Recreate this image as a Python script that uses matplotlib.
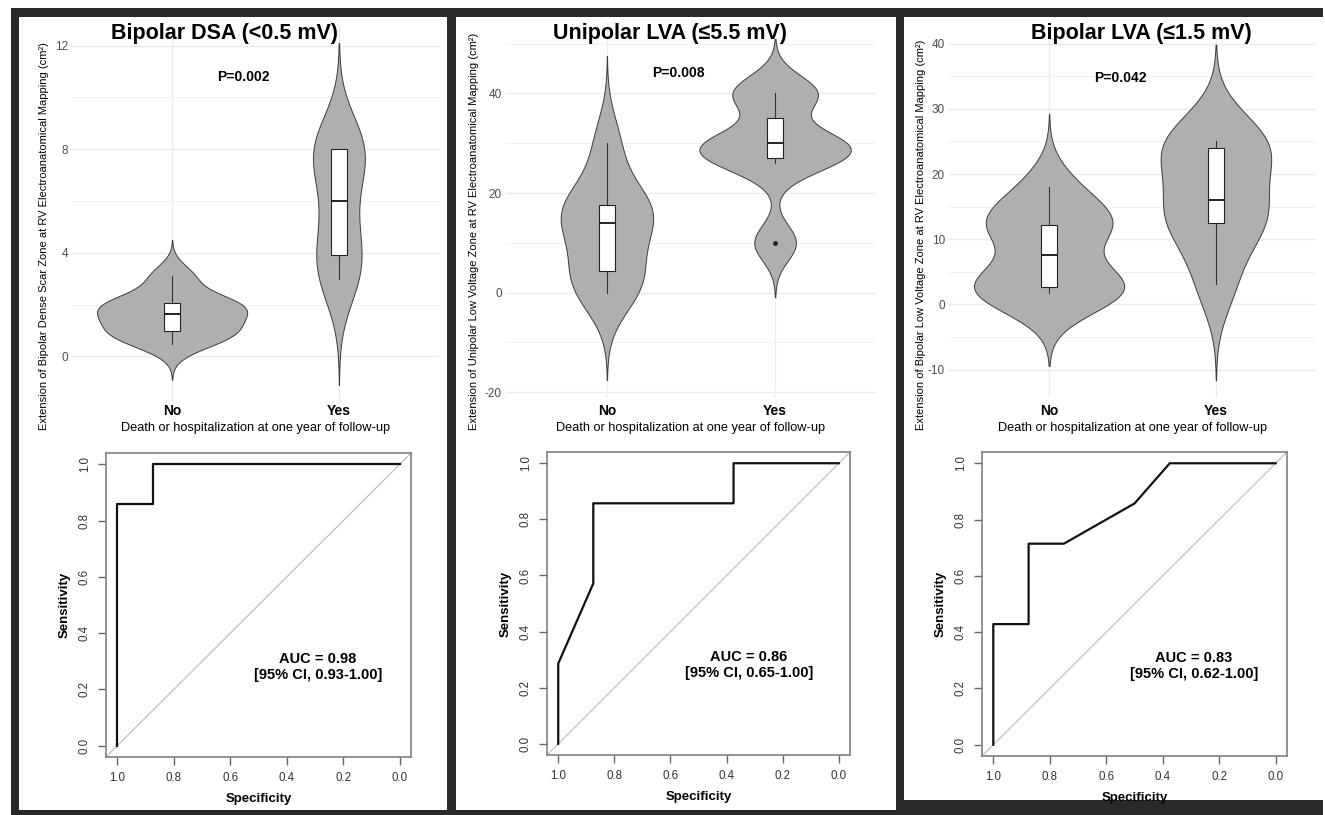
import numpy as np
import matplotlib.pyplot as plt
from matplotlib.patches import Rectangle
from matplotlib.ticker import AutoMinorLocator

plt.rcParams['font.family'] = ['Liberation Sans', 'DejaVu Sans']

# ---- data ----
titles = ['Bipolar DSA (<0.5 mV)', 'Unipolar LVA (≤5.5 mV)', 'Bipolar LVA (≤1.5 mV)']
ylabels = ['Extension of Bipolar Dense Scar Zone at RV Electroanatomical Mapping (cm²)',
           'Extension of Unipolar Low Voltage Zone at RV Electroanatomical Mapping (cm²)',
           'Extension of Bipolar Low Voltage Zone at RV Electroanatomical Mapping (cm²)']
groups = ['No', 'Yes']
xlabel = 'Death or hospitalization at one year of follow-up'
p_values = ['P=0.002', 'P=0.008', 'P=0.042']

# individual patient values (cm2), group "No" (n=8) and "Yes" (n=7)
no_vals = [[0.5, 0.9, 1.03, 1.5, 1.8, 2.0, 2.2, 3.1],
           [0, 2, 5.07, 13, 15, 17, 19, 30],
           [1.8, 2.2, 2.73, 3.2, 12, 12, 12.8, 18]]
yes_vals = [[3.0, 3.4, 4.4, 6.0, 8.0, 8.0, 8.0],
            [10, 26, 28, 30, 30, 40, 40],
            [3.2, 12, 13, 16, 23.5, 24.5, 25]]

yticks = [[0, 4, 8, 12], [-20, 0, 20, 40], [-10, 0, 10, 20, 30, 40]]
auc = ['0.98', '0.86', '0.83']
auc_ci = ['0.93-1.00', '0.65-1.00', '0.62-1.00']
roc_ticks = [1.0, 0.8, 0.6, 0.4, 0.2, 0.0]

W, H = 1325, 815
fig = plt.figure(figsize=(W / 100, H / 100), dpi=100)
fig.patch.set_facecolor('#2a2a2a')


def px_box(x0, y0, x1, y1):
    return [x0 / W, 1 - y1 / H, (x1 - x0) / W, (y1 - y0) / H]


def white_rect(x0, y0, x1, y1):
    l, b, w, h = px_box(x0, y0, x1, y1)
    fig.add_artist(Rectangle((l, b), w, h, transform=fig.transFigure,
                             facecolor='white', edgecolor='none', zorder=-10))


# page margins and white panels
white_rect(0, 0, W, 8)
white_rect(0, 0, 11, H)
white_rect(1323, 0, W, H)
white_rect(19, 17, 447, 810)
white_rect(456, 17, 896, 810)
white_rect(904, 17, 1323, 800)


def bw_nrd0(x):
    x = np.asarray(x, float)
    q1, q3 = np.percentile(x, [25, 75])
    lo = min(x.std(ddof=1), (q3 - q1) / 1.34)
    return 0.9 * lo * len(x) ** -0.2


def density(x):
    x = np.asarray(x, float)
    bw = bw_nrd0(x)
    grid = np.linspace(x.min() - 3 * bw, x.max() + 3 * bw, 512)
    d = np.exp(-0.5 * ((grid[:, None] - x[None, :]) / bw) ** 2).sum(axis=1)
    return grid, d / (len(x) * bw * np.sqrt(2 * np.pi))


def roc_curve(neg, pos):
    neg = np.asarray(neg, float)
    pos = np.asarray(pos, float)
    spec, sens = [1.0], [0.0]
    for t in np.unique(np.concatenate([neg, pos]))[::-1]:
        sens.append(np.mean(pos >= t))
        spec.append(np.mean(neg < t))
    return np.array(spec), np.array(sens)


violin_boxes = [(72, 26, 439, 402), (506, 22, 876, 397), (949, 28, 1316, 397)]
ylabel_pos = [(-0.063, 0.44), (-0.073, 0.443), (-0.062, 0.44)]
xtick_pad = [1.5, 5, 5]
title_x = [224, 670, 1141]
roc_boxes = [(106, 453, 411, 757), (547, 452, 850, 755), (982, 452, 1287, 756)]
auc_x = [0.29, 0.32, 0.29]

for i in range(3):
    # ---------- violin + box plot ----------
    ax = fig.add_axes(px_box(*violin_boxes[i]))
    ax.set_facecolor('none')
    dens = [density(no_vals[i]), density(yes_vals[i])]
    dmax = max(d.max() for _, d in dens)
    lo = min(g.min() for g, _ in dens)
    hi = max(g.max() for g, _ in dens)
    for pos, (g, d) in zip([1, 2], dens):
        w = 0.45 * d / dmax
        ax.fill_betweenx(g, pos - w, pos + w, facecolor='#afafaf',
                         edgecolor='#3c3c3c', linewidth=0.7, zorder=2)
    ax.boxplot([no_vals[i], yes_vals[i]], positions=[1, 2], widths=0.1,
               whis=1.5, patch_artist=True, zorder=3,
               boxprops=dict(facecolor='white', edgecolor='#222222', linewidth=0.8),
               medianprops=dict(color='#111111', linewidth=1.3),
               whiskerprops=dict(color='#333333', linewidth=0.8),
               capprops=dict(linewidth=0),
               flierprops=dict(marker='o', markerfacecolor='#222222',
                               markeredgecolor='#222222', markersize=2.5))
    pad = 0.05 * (hi - lo)
    ax.set_ylim(lo - pad, hi + pad)
    ax.set_xlim(0.4, 2.6)
    ax.set_xticks([1, 2])
    ax.set_xticklabels(groups, fontsize=10, fontweight='bold')
    ax.set_yticks(yticks[i])
    ax.set_yticklabels([str(t) for t in yticks[i]])
    ax.yaxis.set_minor_locator(AutoMinorLocator(2))
    ax.tick_params(which='both', length=0)
    ax.tick_params(axis='y', labelsize=8.5, labelcolor='#4d4d4d', pad=3)
    ax.tick_params(axis='x', pad=xtick_pad[i])
    ax.grid(which='major', color='#ebebeb', linewidth=1.0, zorder=0)
    ax.grid(which='minor', axis='y', color='#f0f0f0', linewidth=0.7, zorder=0)
    ax.set_axisbelow(True)
    for s in ax.spines.values():
        s.set_visible(False)
    ax.set_xlabel(xlabel, fontsize=9.2, labelpad=3)
    ax.set_ylabel(ylabels[i], fontsize=8)
    ax.yaxis.set_label_coords(*ylabel_pos[i])
    ax.text(0.467, 0.865, p_values[i], transform=ax.transAxes, ha='center',
            va='center', fontsize=10, fontweight='bold')
    fig.text(title_x[i] / W, 1 - 33 / H, titles[i], ha='center', va='center',
             fontsize=15.5, fontweight='bold')

    # ---------- ROC curve ----------
    rx = fig.add_axes(px_box(*roc_boxes[i]))
    spec, sens = roc_curve(no_vals[i], yes_vals[i])
    rx.plot([1.04, -0.04], [-0.04, 1.04], color='#c0c0c0', linewidth=0.9, zorder=1)
    rx.plot(spec, sens, color='#111111', linewidth=1.6, zorder=2)
    rx.set_xlim(1.04, -0.04)
    rx.set_ylim(-0.04, 1.04)
    rx.set_xticks(roc_ticks)
    rx.set_yticks(roc_ticks)
    rx.set_xticklabels([f'{t:.1f}' for t in roc_ticks])
    rx.set_yticklabels([f'{t:.1f}' for t in roc_ticks], rotation=90, va='center')
    rx.tick_params(direction='out', length=6, width=1, color='#666666',
                   labelsize=8.3, labelcolor='#333333', pad=5)
    for s in rx.spines.values():
        s.set_color('#808080')
        s.set_linewidth(1.2)
    rx.set_xlabel('Specificity', fontsize=9.5, fontweight='bold', labelpad=6)
    rx.set_ylabel('Sensitivity', fontsize=9.5, fontweight='bold', labelpad=6)
    rx.text(auc_x[i], 0.28, f'AUC = {auc[i]}\n[95% CI, {auc_ci[i]}]',
            ha='center', va='center', fontsize=10.5, fontweight='bold',
            linespacing=1.15)

fig.savefig('out.png', dpi=100, facecolor=fig.get_facecolor())
